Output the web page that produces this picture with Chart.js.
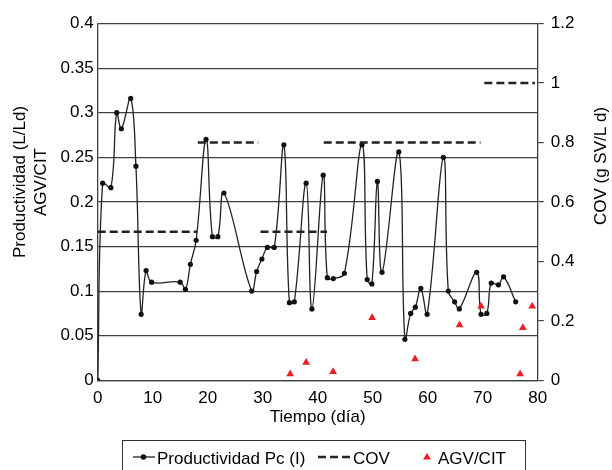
<!DOCTYPE html>
<html>
<head>
<meta charset="utf-8">
<script src="https://cdn.jsdelivr.net/npm/chart.js@4/dist/chart.umd.min.js"></script>
<style>
html, body { margin: 0; padding: 0; background: #fff; }
</style>
</head>
<body>
<canvas id="chart_productividad" width="612" height="470"></canvas>
<script>
// Productividad Pc (I) - dia / valor
var prodDays = [0, 0.9, 2.4, 3.45, 4.3, 6.0, 6.95, 7.9, 8.8, 9.8, 15.0, 15.95, 16.85, 17.9, 19.7, 20.85, 21.85, 22.95,
  28.0, 28.9, 29.85, 30.85, 32.1, 33.85, 34.85, 35.75, 37.9, 38.95, 41.0, 41.75, 42.85, 44.85, 48.05, 49.0, 49.85,
  50.85, 51.7, 54.75, 55.85, 56.9, 57.75, 58.75, 59.9, 62.85, 63.75, 64.9, 65.75, 68.9, 69.7, 70.75, 71.55, 72.85, 73.8, 76.0];
var prodValues = [0, 0.221, 0.216, 0.300, 0.282, 0.316, 0.240, 0.074, 0.123, 0.110, 0.110, 0.102, 0.130, 0.157, 0.270, 0.161, 0.161, 0.210,
  0.100, 0.122, 0.136, 0.149, 0.149, 0.264, 0.087, 0.088, 0.221, 0.080, 0.230, 0.115, 0.114, 0.120, 0.264, 0.113, 0.108,
  0.223, 0.121, 0.256, 0.046, 0.075, 0.082, 0.103, 0.074, 0.250, 0.100, 0.088, 0.080, 0.121, 0.074, 0.075, 0.109, 0.107, 0.116, 0.088];

// COV por etapas (eje derecho)
var covStart = [0, 18.2, 29.6, 41.1, 70.3];
var covEnd = [18.1, 29.2, 41.7, 69.6, 79.5];
var covLevel = [0.5, 0.8, 0.5, 0.8, 1.0];

// AGV/CIT
var agvDays = [35.0, 37.9, 42.8, 49.9, 57.7, 65.8, 69.7, 76.8, 77.3, 79.0];
var agvValues = [0.007, 0.020, 0.0095, 0.070, 0.024, 0.062, 0.083, 0.007, 0.059, 0.083];

var dayTicks = ['0', '10', '20', '30', '40', '50', '60', '70', '80'];
var leftTicks = ['0', '0.05', '0.1', '0.15', '0.2', '0.25', '0.3', '0.35', '0.4'];
var rightTicks = ['0', '0.2', '0.4', '0.6', '0.8', '1', '1.2'];

var seriesLabels = ['Productividad Pc (I)', 'COV', 'AGV/CIT'];
var leftTitle = ['Productividad (L/Ld)', 'AGV/CIT'];
var rightTitle = 'COV (g SV/L d)';
var bottomTitle = 'Tiempo (día)';

var fontFamily = '"Liberation Sans", Arial, sans-serif';
var lineColor = '#404040';
var agvColor = '#ee1c25';

var prodData = prodDays.map(function (d, i) { return {x: d, y: prodValues[i]}; });
var covData = [];
covLevel.forEach(function (v, i) {
  if (i > 0) covData.push({x: covStart[i], y: null});
  covData.push({x: covStart[i], y: v});
  covData.push({x: covEnd[i], y: v});
});
var agvData = agvDays.map(function (d, i) { return {x: d, y: agvValues[i]}; });

// titulos de ejes verticales y leyenda con marco
var extraText = {
  id: 'extraText',
  afterDraw: function (chart) {
    var ctx = chart.ctx;
    ctx.save();
    ctx.fillStyle = '#000';
    ctx.font = '17px ' + fontFamily;
    ctx.textAlign = 'center';
    ctx.textBaseline = 'middle';

    ctx.save();
    ctx.translate(20, 182);
    ctx.rotate(-Math.PI / 2);
    ctx.fillText(leftTitle[0], 0, 0);
    ctx.fillText(leftTitle[1], 0, 21);
    ctx.restore();

    ctx.save();
    ctx.translate(601, 166);
    ctx.rotate(-Math.PI / 2);
    ctx.fillText(rightTitle, 0, 0);
    ctx.restore();

    // leyenda
    ctx.strokeStyle = '#333';
    ctx.lineWidth = 1;
    ctx.strokeRect(122.5, 440.5, 403, 32);

    var ly = 457;
    ctx.strokeStyle = '#222';
    ctx.lineWidth = 1.3;
    ctx.beginPath();
    ctx.moveTo(133, ly);
    ctx.lineTo(155, ly);
    ctx.stroke();
    ctx.fillStyle = '#111';
    ctx.beginPath();
    ctx.arc(143.5, ly, 2.8, 0, Math.PI * 2);
    ctx.fill();

    ctx.strokeStyle = '#222';
    ctx.lineWidth = 2.5;
    ctx.setLineDash([8, 4]);
    ctx.beginPath();
    ctx.moveTo(318, ly);
    ctx.lineTo(350, ly);
    ctx.stroke();
    ctx.setLineDash([]);

    ctx.fillStyle = agvColor;
    ctx.beginPath();
    ctx.moveTo(427, ly - 4);
    ctx.lineTo(431, ly + 2.5);
    ctx.lineTo(423, ly + 2.5);
    ctx.closePath();
    ctx.fill();

    ctx.fillStyle = '#000';
    ctx.textAlign = 'left';
    ctx.textBaseline = 'alphabetic';
    ctx.fillText(seriesLabels[0], 157, 463.5);
    ctx.fillText(seriesLabels[1], 353, 463.5);
    ctx.fillText(seriesLabels[2], 438, 463.5);
    ctx.restore();
  }
};

var ctx_prod = document.getElementById('chart_productividad').getContext('2d');
var chartProductividad = new Chart(ctx_prod, {
  type: 'scatter',
  data: {
    datasets: [{
      label: seriesLabels[0],
      data: prodData,
      showLine: true,
      tension: 0.4,
      borderColor: '#222',
      borderWidth: 1.3,
      pointRadius: 2.6,
      pointBackgroundColor: '#111',
      pointBorderWidth: 0,
      yAxisID: 'y',
      order: 2
    }, {
      label: seriesLabels[1],
      data: covData,
      showLine: true,
      spanGaps: false,
      borderColor: '#222',
      borderWidth: 2.5,
      borderDash: [8, 4],
      pointRadius: 0,
      yAxisID: 'y1',
      order: 1
    }, {
      label: seriesLabels[2],
      data: agvData,
      pointStyle: 'triangle',
      pointRadius: 4.5,
      backgroundColor: agvColor,
      borderColor: agvColor,
      borderWidth: 0,
      yAxisID: 'y',
      order: 0
    }]
  },
  options: {
    responsive: false,
    animation: false,
    events: [],
    layout: {
      padding: {top: 23.5, bottom: 30, left: 0, right: 0}
    },
    plugins: {
      legend: {display: false},
      tooltip: {enabled: false}
    },
    scales: {
      x: {
        type: 'linear',
        min: 0,
        max: 80,
        afterFit: function (s) { s.height = 59.7; },
        afterBuildTicks: function (s) {
          s.ticks = dayTicks.map(function (t) { return {value: Number(t)}; });
        },
        ticks: {
          color: '#000',
          padding: 8,
          maxRotation: 0,
          font: {family: fontFamily, size: 17},
          callback: function (v, i) { return dayTicks[i]; }
        },
        grid: {display: false, drawTicks: false},
        border: {display: true, color: lineColor, width: 1.3},
        title: {
          display: true,
          text: bottomTitle,
          color: '#000',
          font: {family: fontFamily, size: 17},
          padding: {top: 0, bottom: 12}
        }
      },
      y: {
        position: 'left',
        min: 0,
        max: 0.4,
        afterFit: function (s) { s.width = 97.7; },
        afterBuildTicks: function (s) {
          s.ticks = leftTicks.map(function (t) { return {value: Number(t)}; });
        },
        ticks: {
          color: '#000',
          padding: 4,
          font: {family: fontFamily, size: 17},
          callback: function (v, i) { return leftTicks[i]; }
        },
        grid: {color: lineColor, lineWidth: 1.2, drawTicks: false},
        border: {display: true, color: lineColor, width: 1.3}
      },
      y1: {
        position: 'right',
        min: 0,
        max: 1.2,
        afterFit: function (s) { s.width = 74.3; },
        afterBuildTicks: function (s) {
          s.ticks = rightTicks.map(function (t) { return {value: Number(t)}; });
        },
        ticks: {
          color: '#000',
          padding: 7,
          font: {family: fontFamily, size: 17},
          callback: function (v, i) { return rightTicks[i]; }
        },
        grid: {drawOnChartArea: false, drawTicks: true, tickLength: 6, color: lineColor, lineWidth: 1.2},
        border: {display: true, color: lineColor, width: 1.3}
      }
    }
  },
  plugins: [extraText]
});
</script>
</body>
</html>
